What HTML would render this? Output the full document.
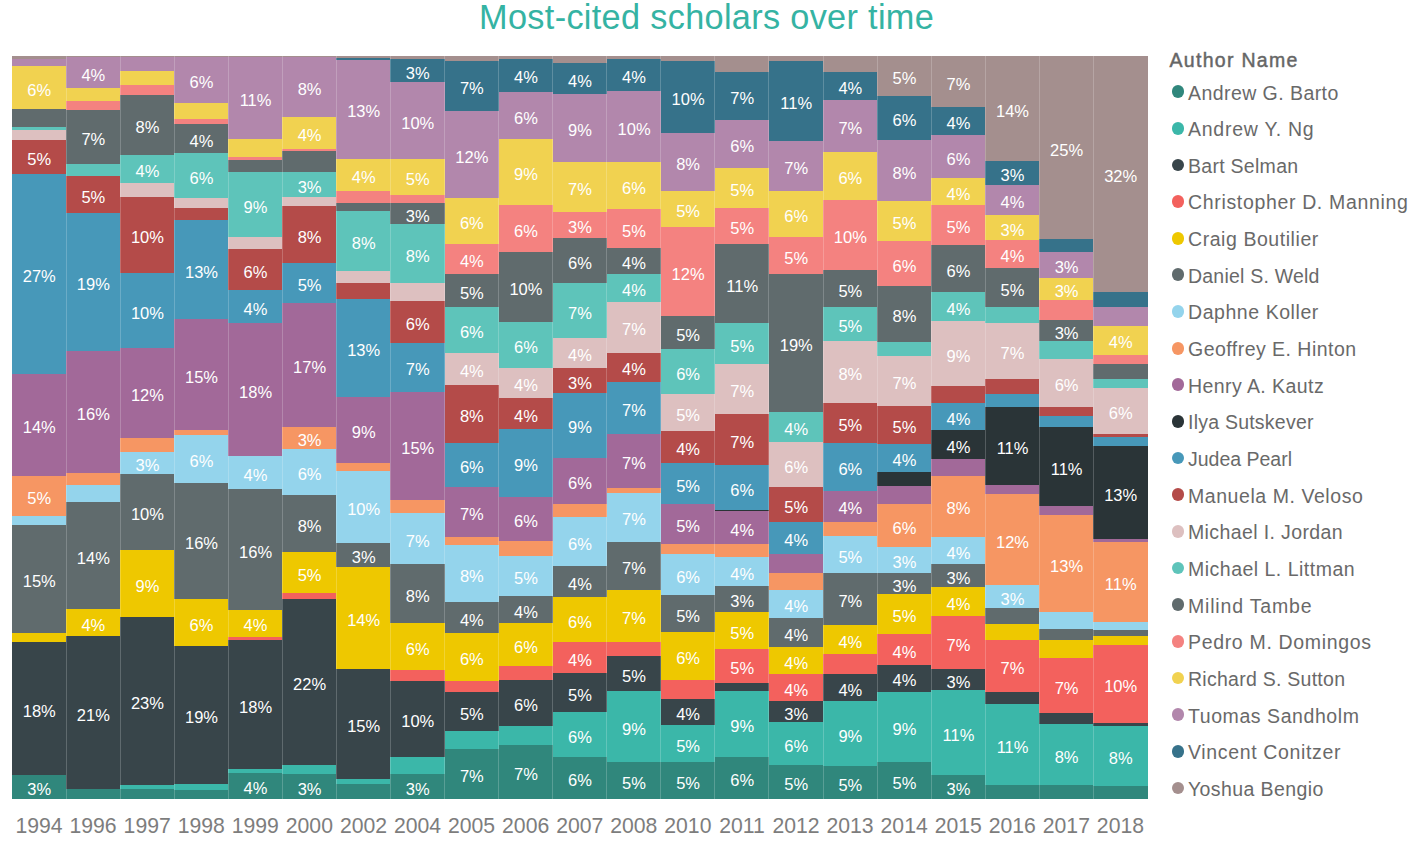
<!DOCTYPE html>
<html><head><meta charset="utf-8"><title>Most-cited scholars over time</title>
<style>
html,body{margin:0;padding:0;background:#fff}
body{width:1411px;height:844px;position:relative;overflow:hidden;font-family:"Liberation Sans",sans-serif}
#t{position:absolute;left:0;top:-3.2px;width:1413.2px;text-align:center;font-size:34.3px;line-height:40px;color:#35B3A3;white-space:nowrap;letter-spacing:0.31px}
.c{position:absolute;top:0;width:54.57px;height:844px}
.c i{position:absolute;left:0;width:100%;display:block}
.c b{position:absolute;left:0;width:100%;text-align:center;font-weight:normal;color:#fff;font-size:16.5px;line-height:20px;height:20px;white-space:nowrap;letter-spacing:0}
.c u{position:absolute;left:-0.5px;width:1px;height:743px;top:56px;background:rgba(255,255,255,.2);text-decoration:none}
.y{position:absolute;width:80px;text-align:center;font-size:21.2px;line-height:24px;color:#7d7d7d;white-space:nowrap}
.l{position:absolute;left:1188px;font-size:19.5px;line-height:24px;color:#696969;white-space:nowrap}
.d{position:absolute;width:12.8px;height:12.8px;border-radius:50%}
#lt{position:absolute;left:1169.5px;top:48px;font-size:19.5px;line-height:24px;font-weight:normal;-webkit-text-stroke:.45px #666;color:#666;white-space:nowrap;letter-spacing:1.3px}
.bar{background:#30877C}
.ng{background:#3BB7A9}
.sel{background:#38454A}
.man{background:#F3615D}
.bou{background:#EEC800}
.wel{background:#606B6D}
.kol{background:#94D4EC}
.hin{background:#F69663}
.kau{background:#A26999}
.sk{background:#2A3437}
.pea{background:#4798B9}
.vel{background:#B44B49}
.jor{background:#DDC0C0}
.lit{background:#5EC4BA}
.tam{background:#606B6D}
.dom{background:#F48280}
.st{background:#F1D250}
.sa{background:#B287AC}
.con{background:#36728A}
.ben{background:#A48F8E}
</style></head><body>
<div id="t">Most-cited scholars over time</div>
<div class="c" style="left:12px"><i class="ben" style="top:56px;height:3px"></i><i class="sa" style="top:58.7px;height:7.1px"></i><i class="st" style="top:65.5px;height:43.8px"></i><i class="tam" style="top:109px;height:18.3px"></i><i class="lit" style="top:127px;height:3.3px"></i><i class="jor" style="top:130px;height:10.3px"></i><i class="vel" style="top:140px;height:33.8px"></i><i class="pea" style="top:173.5px;height:200.3px"></i><i class="kau" style="top:373.5px;height:102.3px"></i><i class="hin" style="top:475.5px;height:40.3px"></i><i class="kol" style="top:515.5px;height:9.8px"></i><i class="wel" style="top:525px;height:108.05px"></i><i class="bou" style="top:632.75px;height:9.55px"></i><i class="sel" style="top:642px;height:132.8px"></i><i class="bar" style="top:774.5px;height:24.5px"></i><b style="top:79.55px">6%</b><b style="top:149.05px">5%</b><b style="top:265.8px">27%</b><b style="top:416.8px">14%</b><b style="top:487.8px">5%</b><b style="top:571.17px">15%</b><b style="top:700.55px">18%</b><b style="top:779.05px">3%</b></div>
<div class="y" style="left:-0.97px;top:814.04px">1994</div>
<div class="c" style="left:66.07px"><i class="ben" style="top:56px;height:1px"></i><i class="sa" style="top:56.7px;height:31.6px"></i><i class="st" style="top:88px;height:13.3px"></i><i class="dom" style="top:101px;height:9.3px"></i><i class="tam" style="top:110px;height:53.8px"></i><i class="lit" style="top:163.5px;height:12.8px"></i><i class="vel" style="top:176px;height:36.8px"></i><i class="pea" style="top:212.5px;height:138.8px"></i><i class="kau" style="top:351px;height:122.3px"></i><i class="hin" style="top:473px;height:12.3px"></i><i class="kol" style="top:485px;height:17.3px"></i><i class="wel" style="top:502px;height:107.3px"></i><i class="bou" style="top:609px;height:27.3px"></i><i class="sel" style="top:636px;height:153.3px"></i><i class="bar" style="top:789px;height:10px"></i><b style="top:64.65px">4%</b><b style="top:129.05px">7%</b><b style="top:186.55px">5%</b><b style="top:274.05px">19%</b><b style="top:404.3px">16%</b><b style="top:547.8px">14%</b><b style="top:614.8px">4%</b><b style="top:704.8px">21%</b><u></u></div>
<div class="y" style="left:53.1px;top:814.04px">1996</div>
<div class="c" style="left:120.14px"><i class="ben" style="top:56px;height:1px"></i><i class="sa" style="top:56.7px;height:14.1px"></i><i class="st" style="top:70.5px;height:14.8px"></i><i class="dom" style="top:85px;height:10.3px"></i><i class="tam" style="top:95px;height:59.8px"></i><i class="lit" style="top:154.5px;height:28.3px"></i><i class="jor" style="top:182.5px;height:14.8px"></i><i class="vel" style="top:197px;height:76.3px"></i><i class="pea" style="top:273px;height:74.8px"></i><i class="kau" style="top:347.5px;height:90.8px"></i><i class="hin" style="top:438px;height:14.3px"></i><i class="kol" style="top:452px;height:21.8px"></i><i class="wel" style="top:473.5px;height:76.8px"></i><i class="bou" style="top:550px;height:67.3px"></i><i class="sel" style="top:617px;height:168.3px"></i><i class="ng" style="top:785px;height:4.05px"></i><i class="bar" style="top:788.75px;height:10.25px"></i><b style="top:117.05px">8%</b><b style="top:160.8px">4%</b><b style="top:227.3px">10%</b><b style="top:302.55px">10%</b><b style="top:385.05px">12%</b><b style="top:455.05px">3%</b><b style="top:504.05px">10%</b><b style="top:575.8px">9%</b><b style="top:693.3px">23%</b><u></u></div>
<div class="y" style="left:107.18px;top:814.04px">1997</div>
<div class="c" style="left:174.21px"><i class="ben" style="top:56px;height:1px"></i><i class="sa" style="top:56.7px;height:46.6px"></i><i class="st" style="top:103px;height:15.8px"></i><i class="dom" style="top:118.5px;height:5.8px"></i><i class="tam" style="top:124px;height:29.3px"></i><i class="lit" style="top:153px;height:44.8px"></i><i class="jor" style="top:197.5px;height:10.8px"></i><i class="vel" style="top:208px;height:12.3px"></i><i class="pea" style="top:220px;height:98.8px"></i><i class="kau" style="top:318.5px;height:111.8px"></i><i class="hin" style="top:430px;height:5.3px"></i><i class="kol" style="top:435px;height:47.8px"></i><i class="wel" style="top:482.5px;height:116.3px"></i><i class="bou" style="top:598.5px;height:47.8px"></i><i class="sel" style="top:646px;height:138.3px"></i><i class="ng" style="top:784px;height:6.3px"></i><i class="bar" style="top:790px;height:9px"></i><b style="top:72.15px">6%</b><b style="top:130.8px">4%</b><b style="top:167.55px">6%</b><b style="top:261.55px">13%</b><b style="top:366.55px">15%</b><b style="top:451.05px">6%</b><b style="top:532.8px">16%</b><b style="top:614.55px">6%</b><b style="top:707.3px">19%</b><u></u></div>
<div class="y" style="left:161.25px;top:814.04px">1998</div>
<div class="c" style="left:228.28px"><i class="ben" style="top:56px;height:1px"></i><i class="sa" style="top:56.7px;height:82.6px"></i><i class="st" style="top:139px;height:18.3px"></i><i class="dom" style="top:157px;height:3.3px"></i><i class="tam" style="top:160px;height:12.3px"></i><i class="lit" style="top:172px;height:65.3px"></i><i class="jor" style="top:237px;height:12.3px"></i><i class="vel" style="top:249px;height:41.3px"></i><i class="pea" style="top:290px;height:32.8px"></i><i class="kau" style="top:322.5px;height:133.8px"></i><i class="kol" style="top:456px;height:33.3px"></i><i class="wel" style="top:489px;height:120.8px"></i><i class="bou" style="top:609.5px;height:27.3px"></i><i class="man" style="top:636.5px;height:3.55px"></i><i class="sel" style="top:639.75px;height:129.55px"></i><i class="ng" style="top:769px;height:4.3px"></i><i class="bar" style="top:773px;height:26px"></i><b style="top:90.15px">11%</b><b style="top:196.8px">9%</b><b style="top:261.8px">6%</b><b style="top:298.55px">4%</b><b style="top:381.55px">18%</b><b style="top:464.8px">4%</b><b style="top:541.55px">16%</b><b style="top:615.3px">4%</b><b style="top:696.67px">18%</b><b style="top:778.3px">4%</b><u></u></div>
<div class="y" style="left:215.31px;top:814.04px">1999</div>
<div class="c" style="left:282.35px"><i class="ben" style="top:56px;height:1px"></i><i class="sa" style="top:56.7px;height:60.1px"></i><i class="st" style="top:116.5px;height:32.3px"></i><i class="dom" style="top:148.5px;height:2.8px"></i><i class="tam" style="top:151px;height:20.8px"></i><i class="lit" style="top:171.5px;height:25.8px"></i><i class="jor" style="top:197px;height:9.3px"></i><i class="vel" style="top:206px;height:57.3px"></i><i class="pea" style="top:263px;height:40.3px"></i><i class="kau" style="top:303px;height:123.8px"></i><i class="hin" style="top:426.5px;height:22.8px"></i><i class="kol" style="top:449px;height:46.3px"></i><i class="wel" style="top:495px;height:57.3px"></i><i class="bou" style="top:552px;height:40.8px"></i><i class="man" style="top:592.5px;height:6.8px"></i><i class="sel" style="top:599px;height:165.8px"></i><i class="ng" style="top:764.5px;height:9.55px"></i><i class="bar" style="top:773.75px;height:25.25px"></i><b style="top:78.9px">8%</b><b style="top:124.8px">4%</b><b style="top:176.55px">3%</b><b style="top:226.8px">8%</b><b style="top:275.3px">5%</b><b style="top:357.05px">17%</b><b style="top:430.05px">3%</b><b style="top:464.3px">6%</b><b style="top:515.8px">8%</b><b style="top:564.55px">5%</b><b style="top:674.05px">22%</b><b style="top:778.67px">3%</b><u></u></div>
<div class="y" style="left:269.39px;top:814.04px">2000</div>
<div class="c" style="left:336.42px"><i class="ben" style="top:56px;height:2.3px"></i><i class="con" style="top:58px;height:1.8px"></i><i class="sa" style="top:59.5px;height:99.3px"></i><i class="st" style="top:158.5px;height:32.8px"></i><i class="dom" style="top:191px;height:12.05px"></i><i class="tam" style="top:202.75px;height:8.05px"></i><i class="lit" style="top:210.5px;height:60.3px"></i><i class="jor" style="top:270.5px;height:12.8px"></i><i class="vel" style="top:283px;height:15.8px"></i><i class="pea" style="top:298.5px;height:98.3px"></i><i class="kau" style="top:396.5px;height:66.8px"></i><i class="hin" style="top:463px;height:8.3px"></i><i class="kol" style="top:471px;height:72.3px"></i><i class="wel" style="top:543px;height:24.3px"></i><i class="bou" style="top:567px;height:102.3px"></i><i class="sel" style="top:669px;height:110.3px"></i><i class="ng" style="top:779px;height:4.8px"></i><i class="bar" style="top:783.5px;height:15.5px"></i><b style="top:101.3px">13%</b><b style="top:167.05px">4%</b><b style="top:232.8px">8%</b><b style="top:339.8px">13%</b><b style="top:422.05px">9%</b><b style="top:499.3px">10%</b><b style="top:547.3px">3%</b><b style="top:610.3px">14%</b><b style="top:716.3px">15%</b><u></u></div>
<div class="y" style="left:323.46px;top:814.04px">2002</div>
<div class="c" style="left:390.49px"><i class="ben" style="top:56px;height:3px"></i><i class="con" style="top:58.7px;height:23.6px"></i><i class="sa" style="top:82px;height:76.8px"></i><i class="st" style="top:158.5px;height:36.8px"></i><i class="dom" style="top:195px;height:8.3px"></i><i class="tam" style="top:203px;height:21.3px"></i><i class="lit" style="top:224px;height:59.3px"></i><i class="jor" style="top:283px;height:18.3px"></i><i class="vel" style="top:301px;height:41.8px"></i><i class="pea" style="top:342.5px;height:49.3px"></i><i class="kau" style="top:391.5px;height:108.8px"></i><i class="hin" style="top:500px;height:12.8px"></i><i class="kol" style="top:512.5px;height:51.8px"></i><i class="wel" style="top:564px;height:59.3px"></i><i class="bou" style="top:623px;height:47.3px"></i><i class="man" style="top:670px;height:10.8px"></i><i class="sel" style="top:680.5px;height:76.3px"></i><i class="ng" style="top:756.5px;height:17.3px"></i><i class="bar" style="top:773.5px;height:25.5px"></i><b style="top:62.65px">3%</b><b style="top:112.55px">10%</b><b style="top:169.05px">5%</b><b style="top:205.8px">3%</b><b style="top:245.8px">8%</b><b style="top:314.05px">6%</b><b style="top:359.3px">7%</b><b style="top:438.05px">15%</b><b style="top:530.55px">7%</b><b style="top:585.8px">8%</b><b style="top:638.8px">6%</b><b style="top:710.8px">10%</b><b style="top:778.55px">3%</b><u></u></div>
<div class="y" style="left:377.53px;top:814.04px">2004</div>
<div class="c" style="left:444.56px"><i class="ben" style="top:56px;height:5.3px"></i><i class="con" style="top:61px;height:50.3px"></i><i class="sa" style="top:111px;height:87.3px"></i><i class="st" style="top:198px;height:46.3px"></i><i class="dom" style="top:244px;height:30.05px"></i><i class="tam" style="top:273.75px;height:33.55px"></i><i class="lit" style="top:307px;height:46.3px"></i><i class="jor" style="top:353px;height:32.3px"></i><i class="vel" style="top:385px;height:58.3px"></i><i class="pea" style="top:443px;height:43.8px"></i><i class="kau" style="top:486.5px;height:50.3px"></i><i class="hin" style="top:536.5px;height:8.3px"></i><i class="kol" style="top:544.5px;height:57.8px"></i><i class="wel" style="top:602px;height:30.8px"></i><i class="bou" style="top:632.5px;height:48.8px"></i><i class="man" style="top:681px;height:11.3px"></i><i class="sel" style="top:692px;height:38.8px"></i><i class="ng" style="top:730.5px;height:18.8px"></i><i class="bar" style="top:749px;height:50px"></i><b style="top:78.3px">7%</b><b style="top:146.8px">12%</b><b style="top:213.3px">6%</b><b style="top:251.18px">4%</b><b style="top:282.68px">5%</b><b style="top:322.3px">6%</b><b style="top:361.3px">4%</b><b style="top:406.3px">8%</b><b style="top:457.05px">6%</b><b style="top:503.8px">7%</b><b style="top:565.55px">8%</b><b style="top:609.55px">4%</b><b style="top:649.05px">6%</b><b style="top:703.55px">5%</b><b style="top:766.3px">7%</b><u></u></div>
<div class="y" style="left:431.6px;top:814.04px">2005</div>
<div class="c" style="left:498.63px"><i class="ben" style="top:56px;height:3px"></i><i class="con" style="top:58.7px;height:33.1px"></i><i class="sa" style="top:91.5px;height:47.8px"></i><i class="st" style="top:139px;height:66.3px"></i><i class="dom" style="top:205px;height:46.8px"></i><i class="tam" style="top:251.5px;height:70.8px"></i><i class="lit" style="top:322px;height:45.8px"></i><i class="jor" style="top:367.5px;height:30.3px"></i><i class="vel" style="top:397.5px;height:31.8px"></i><i class="pea" style="top:429px;height:67.8px"></i><i class="kau" style="top:496.5px;height:44.8px"></i><i class="hin" style="top:541px;height:14.8px"></i><i class="kol" style="top:555.5px;height:40.8px"></i><i class="wel" style="top:596px;height:26.8px"></i><i class="bou" style="top:622.5px;height:43.8px"></i><i class="man" style="top:666px;height:13.8px"></i><i class="sel" style="top:679.5px;height:46.3px"></i><i class="ng" style="top:725.5px;height:19.8px"></i><i class="bar" style="top:745px;height:54px"></i><b style="top:67.4px">4%</b><b style="top:107.55px">6%</b><b style="top:164.3px">9%</b><b style="top:220.55px">6%</b><b style="top:279.05px">10%</b><b style="top:337.05px">6%</b><b style="top:374.8px">4%</b><b style="top:405.55px">4%</b><b style="top:455.05px">9%</b><b style="top:511.05px">6%</b><b style="top:568.05px">5%</b><b style="top:601.55px">4%</b><b style="top:636.55px">6%</b><b style="top:694.8px">6%</b><b style="top:764.3px">7%</b><u></u></div>
<div class="y" style="left:485.66px;top:814.04px">2006</div>
<div class="c" style="left:552.7px"><i class="ben" style="top:56px;height:7px"></i><i class="con" style="top:62.7px;height:31.6px"></i><i class="sa" style="top:94px;height:68.3px"></i><i class="st" style="top:162px;height:49.8px"></i><i class="dom" style="top:211.5px;height:26.8px"></i><i class="tam" style="top:238px;height:45.3px"></i><i class="lit" style="top:283px;height:55.3px"></i><i class="jor" style="top:338px;height:30.3px"></i><i class="vel" style="top:368px;height:24.8px"></i><i class="pea" style="top:392.5px;height:65.3px"></i><i class="kau" style="top:457.5px;height:46.8px"></i><i class="hin" style="top:504px;height:13.3px"></i><i class="kol" style="top:517px;height:48.8px"></i><i class="wel" style="top:565.5px;height:31.8px"></i><i class="bou" style="top:597px;height:45.3px"></i><i class="man" style="top:642px;height:30.8px"></i><i class="sel" style="top:672.5px;height:39.8px"></i><i class="ng" style="top:712px;height:45.3px"></i><i class="bar" style="top:757px;height:42px"></i><b style="top:70.65px">4%</b><b style="top:120.3px">9%</b><b style="top:179.05px">7%</b><b style="top:217.05px">3%</b><b style="top:252.8px">6%</b><b style="top:302.8px">7%</b><b style="top:345.3px">4%</b><b style="top:372.55px">3%</b><b style="top:417.3px">9%</b><b style="top:473.05px">6%</b><b style="top:533.55px">6%</b><b style="top:573.55px">4%</b><b style="top:611.8px">6%</b><b style="top:649.55px">4%</b><b style="top:684.55px">5%</b><b style="top:726.8px">6%</b><b style="top:770.3px">6%</b><u></u></div>
<div class="y" style="left:539.74px;top:814.04px">2007</div>
<div class="c" style="left:606.77px"><i class="ben" style="top:56px;height:3px"></i><i class="con" style="top:58.7px;height:32.6px"></i><i class="sa" style="top:91px;height:71.3px"></i><i class="st" style="top:162px;height:47.3px"></i><i class="dom" style="top:209px;height:39.3px"></i><i class="tam" style="top:248px;height:26.3px"></i><i class="lit" style="top:274px;height:27.8px"></i><i class="jor" style="top:301.5px;height:51.3px"></i><i class="vel" style="top:352.5px;height:29.3px"></i><i class="pea" style="top:381.5px;height:52.3px"></i><i class="kau" style="top:433.5px;height:54.8px"></i><i class="hin" style="top:488px;height:4.8px"></i><i class="kol" style="top:492.5px;height:49.3px"></i><i class="wel" style="top:541.5px;height:48.3px"></i><i class="bou" style="top:589.5px;height:52.3px"></i><i class="man" style="top:641.5px;height:14.8px"></i><i class="sel" style="top:656px;height:35.3px"></i><i class="ng" style="top:691px;height:71.3px"></i><i class="bar" style="top:762px;height:37px"></i><b style="top:67.15px">4%</b><b style="top:118.8px">10%</b><b style="top:177.8px">6%</b><b style="top:220.8px">5%</b><b style="top:253.3px">4%</b><b style="top:280.05px">4%</b><b style="top:319.3px">7%</b><b style="top:359.3px">4%</b><b style="top:399.8px">7%</b><b style="top:453.05px">7%</b><b style="top:509.3px">7%</b><b style="top:557.8px">7%</b><b style="top:607.8px">7%</b><b style="top:665.8px">5%</b><b style="top:718.8px">9%</b><b style="top:772.8px">5%</b><u></u></div>
<div class="y" style="left:593.8px;top:814.04px">2008</div>
<div class="c" style="left:660.84px"><i class="ben" style="top:56px;height:5.3px"></i><i class="con" style="top:61px;height:72.3px"></i><i class="sa" style="top:133px;height:58.3px"></i><i class="st" style="top:191px;height:35.8px"></i><i class="dom" style="top:226.5px;height:89.8px"></i><i class="tam" style="top:316px;height:33.3px"></i><i class="lit" style="top:349px;height:45.3px"></i><i class="jor" style="top:394px;height:37.3px"></i><i class="vel" style="top:431px;height:32.3px"></i><i class="pea" style="top:463px;height:41.3px"></i><i class="kau" style="top:504px;height:39.8px"></i><i class="hin" style="top:543.5px;height:10.3px"></i><i class="kol" style="top:553.5px;height:41.8px"></i><i class="wel" style="top:595px;height:37.3px"></i><i class="bou" style="top:632px;height:48.3px"></i><i class="man" style="top:680px;height:19.3px"></i><i class="sel" style="top:699px;height:26.3px"></i><i class="ng" style="top:725px;height:37.3px"></i><i class="bar" style="top:762px;height:37px"></i><b style="top:89.3px">10%</b><b style="top:154.3px">8%</b><b style="top:201.05px">5%</b><b style="top:263.55px">12%</b><b style="top:324.8px">5%</b><b style="top:363.8px">6%</b><b style="top:404.8px">5%</b><b style="top:439.3px">4%</b><b style="top:475.8px">5%</b><b style="top:516.05px">5%</b><b style="top:566.55px">6%</b><b style="top:605.8px">5%</b><b style="top:648.3px">6%</b><b style="top:704.3px">4%</b><b style="top:735.8px">5%</b><b style="top:772.8px">5%</b><u></u></div>
<div class="y" style="left:647.88px;top:814.04px">2010</div>
<div class="c" style="left:714.91px"><i class="ben" style="top:56px;height:16.3px"></i><i class="con" style="top:72px;height:48.3px"></i><i class="sa" style="top:120px;height:48.3px"></i><i class="st" style="top:168px;height:39.8px"></i><i class="dom" style="top:207.5px;height:36.8px"></i><i class="tam" style="top:244px;height:79.3px"></i><i class="lit" style="top:323px;height:40.8px"></i><i class="jor" style="top:363.5px;height:50.3px"></i><i class="vel" style="top:413.5px;height:51.8px"></i><i class="pea" style="top:465px;height:44.8px"></i><i class="sk" style="top:509.5px;height:1.8px"></i><i class="kau" style="top:511px;height:32.8px"></i><i class="hin" style="top:543.5px;height:13.8px"></i><i class="kol" style="top:557px;height:29.3px"></i><i class="wel" style="top:586px;height:26.3px"></i><i class="bou" style="top:612px;height:36.8px"></i><i class="man" style="top:648.5px;height:34.8px"></i><i class="sel" style="top:683px;height:8.3px"></i><i class="ng" style="top:691px;height:65.8px"></i><i class="bar" style="top:756.5px;height:42.5px"></i><b style="top:88.3px">7%</b><b style="top:136.3px">6%</b><b style="top:180.05px">5%</b><b style="top:218.05px">5%</b><b style="top:275.8px">11%</b><b style="top:335.55px">5%</b><b style="top:380.8px">7%</b><b style="top:431.55px">7%</b><b style="top:479.55px">6%</b><b style="top:519.55px">4%</b><b style="top:563.8px">4%</b><b style="top:591.3px">3%</b><b style="top:622.55px">5%</b><b style="top:658.05px">5%</b><b style="top:716.05px">9%</b><b style="top:770.05px">6%</b><u></u></div>
<div class="y" style="left:701.94px;top:814.04px">2011</div>
<div class="c" style="left:768.98px"><i class="ben" style="top:56px;height:5.3px"></i><i class="con" style="top:61px;height:80.3px"></i><i class="sa" style="top:141px;height:50.3px"></i><i class="st" style="top:191px;height:46.3px"></i><i class="dom" style="top:237px;height:36.8px"></i><i class="tam" style="top:273.5px;height:138.3px"></i><i class="lit" style="top:411.5px;height:30.3px"></i><i class="jor" style="top:441.5px;height:45.8px"></i><i class="vel" style="top:487px;height:34.8px"></i><i class="pea" style="top:521.5px;height:32.3px"></i><i class="kau" style="top:553.5px;height:19.3px"></i><i class="hin" style="top:572.5px;height:17.3px"></i><i class="kol" style="top:589.5px;height:28.8px"></i><i class="wel" style="top:618px;height:29.3px"></i><i class="bou" style="top:647px;height:26.8px"></i><i class="man" style="top:673.5px;height:27.8px"></i><i class="sel" style="top:701px;height:21.3px"></i><i class="ng" style="top:722px;height:42.8px"></i><i class="bar" style="top:764.5px;height:34.5px"></i><b style="top:93.3px">11%</b><b style="top:158.3px">7%</b><b style="top:206.3px">6%</b><b style="top:247.55px">5%</b><b style="top:334.8px">19%</b><b style="top:418.8px">4%</b><b style="top:456.55px">6%</b><b style="top:496.55px">5%</b><b style="top:529.8px">4%</b><b style="top:596.05px">4%</b><b style="top:624.8px">4%</b><b style="top:652.55px">4%</b><b style="top:679.55px">4%</b><b style="top:703.8px">3%</b><b style="top:735.55px">6%</b><b style="top:774.05px">5%</b><u></u></div>
<div class="y" style="left:756.01px;top:814.04px">2012</div>
<div class="c" style="left:823.05px"><i class="ben" style="top:56px;height:15.8px"></i><i class="con" style="top:71.5px;height:28.8px"></i><i class="sa" style="top:100px;height:52.3px"></i><i class="st" style="top:152px;height:47.8px"></i><i class="dom" style="top:199.5px;height:70.8px"></i><i class="tam" style="top:270px;height:37.3px"></i><i class="lit" style="top:307px;height:34.3px"></i><i class="jor" style="top:341px;height:62.3px"></i><i class="vel" style="top:403px;height:39.8px"></i><i class="pea" style="top:442.5px;height:48.3px"></i><i class="kau" style="top:490.5px;height:31.3px"></i><i class="hin" style="top:521.5px;height:14.3px"></i><i class="kol" style="top:535.5px;height:37.8px"></i><i class="wel" style="top:573px;height:51.8px"></i><i class="bou" style="top:624.5px;height:29.8px"></i><i class="man" style="top:654px;height:20.3px"></i><i class="sel" style="top:674px;height:27.3px"></i><i class="ng" style="top:701px;height:64.8px"></i><i class="bar" style="top:765.5px;height:33.5px"></i><b style="top:78.05px">4%</b><b style="top:118.3px">7%</b><b style="top:168.05px">6%</b><b style="top:227.05px">10%</b><b style="top:280.8px">5%</b><b style="top:316.3px">5%</b><b style="top:364.3px">8%</b><b style="top:415.05px">5%</b><b style="top:458.8px">6%</b><b style="top:498.3px">4%</b><b style="top:546.55px">5%</b><b style="top:591.05px">7%</b><b style="top:631.55px">4%</b><b style="top:679.8px">4%</b><b style="top:725.55px">9%</b><b style="top:774.55px">5%</b><u></u></div>
<div class="y" style="left:810.08px;top:814.04px">2013</div>
<div class="c" style="left:877.12px"><i class="ben" style="top:56px;height:39.8px"></i><i class="con" style="top:95.5px;height:44.8px"></i><i class="sa" style="top:140px;height:60.8px"></i><i class="st" style="top:200.5px;height:40.3px"></i><i class="dom" style="top:240.5px;height:45.8px"></i><i class="tam" style="top:286px;height:56.3px"></i><i class="lit" style="top:342px;height:14.3px"></i><i class="jor" style="top:356px;height:50.3px"></i><i class="vel" style="top:406px;height:37.8px"></i><i class="pea" style="top:443.5px;height:28.8px"></i><i class="sk" style="top:472px;height:14.3px"></i><i class="kau" style="top:486px;height:18.3px"></i><i class="hin" style="top:504px;height:43.3px"></i><i class="kol" style="top:547px;height:26.3px"></i><i class="wel" style="top:573px;height:21.3px"></i><i class="bou" style="top:594px;height:40.3px"></i><i class="man" style="top:634px;height:30.8px"></i><i class="sel" style="top:664.5px;height:27.3px"></i><i class="ng" style="top:691.5px;height:70.3px"></i><i class="bar" style="top:761.5px;height:37.5px"></i><b style="top:68.05px">5%</b><b style="top:110.05px">6%</b><b style="top:162.55px">8%</b><b style="top:212.8px">5%</b><b style="top:255.55px">6%</b><b style="top:306.3px">8%</b><b style="top:373.3px">7%</b><b style="top:417.05px">5%</b><b style="top:450.05px">4%</b><b style="top:517.8px">6%</b><b style="top:552.3px">3%</b><b style="top:575.8px">3%</b><b style="top:606.3px">5%</b><b style="top:641.55px">4%</b><b style="top:670.3px">4%</b><b style="top:718.8px">9%</b><b style="top:772.55px">5%</b><u></u></div>
<div class="y" style="left:864.15px;top:814.04px">2014</div>
<div class="c" style="left:931.19px"><i class="ben" style="top:56px;height:50.8px"></i><i class="con" style="top:106.5px;height:28.3px"></i><i class="sa" style="top:134.5px;height:43.8px"></i><i class="st" style="top:178px;height:26.8px"></i><i class="dom" style="top:204.5px;height:40.8px"></i><i class="tam" style="top:245px;height:47.3px"></i><i class="lit" style="top:292px;height:29.3px"></i><i class="jor" style="top:321px;height:65.3px"></i><i class="vel" style="top:386px;height:17.3px"></i><i class="pea" style="top:403px;height:27.3px"></i><i class="sk" style="top:430px;height:28.8px"></i><i class="kau" style="top:458.5px;height:17.3px"></i><i class="hin" style="top:475.5px;height:61.3px"></i><i class="kol" style="top:536.5px;height:27.8px"></i><i class="wel" style="top:564px;height:22.8px"></i><i class="bou" style="top:586.5px;height:29.8px"></i><i class="man" style="top:616px;height:53.3px"></i><i class="sel" style="top:669px;height:21.3px"></i><i class="ng" style="top:690px;height:84.8px"></i><i class="bar" style="top:774.5px;height:24.5px"></i><b style="top:73.55px">7%</b><b style="top:112.8px">4%</b><b style="top:148.55px">6%</b><b style="top:183.55px">4%</b><b style="top:217.05px">5%</b><b style="top:260.8px">6%</b><b style="top:298.8px">4%</b><b style="top:345.8px">9%</b><b style="top:408.8px">4%</b><b style="top:436.55px">4%</b><b style="top:498.3px">8%</b><b style="top:542.55px">4%</b><b style="top:567.55px">3%</b><b style="top:593.55px">4%</b><b style="top:634.8px">7%</b><b style="top:671.8px">3%</b><b style="top:724.55px">11%</b><b style="top:779.05px">3%</b><u></u></div>
<div class="y" style="left:918.23px;top:814.04px">2015</div>
<div class="c" style="left:985.26px"><i class="ben" style="top:56px;height:105.3px"></i><i class="con" style="top:161px;height:24.3px"></i><i class="sa" style="top:185px;height:29.8px"></i><i class="st" style="top:214.5px;height:25.8px"></i><i class="dom" style="top:240px;height:28.3px"></i><i class="tam" style="top:268px;height:39.3px"></i><i class="lit" style="top:307px;height:15.8px"></i><i class="jor" style="top:322.5px;height:56.3px"></i><i class="vel" style="top:378.5px;height:15.3px"></i><i class="pea" style="top:393.5px;height:13.8px"></i><i class="sk" style="top:407px;height:78.3px"></i><i class="kau" style="top:485px;height:9.3px"></i><i class="hin" style="top:494px;height:91.3px"></i><i class="kol" style="top:585px;height:23.3px"></i><i class="wel" style="top:608px;height:16.3px"></i><i class="bou" style="top:624px;height:16.3px"></i><i class="man" style="top:640px;height:51.8px"></i><i class="sel" style="top:691.5px;height:12.8px"></i><i class="ng" style="top:704px;height:80.8px"></i><i class="bar" style="top:784.5px;height:14.5px"></i><b style="top:100.8px">14%</b><b style="top:165.3px">3%</b><b style="top:192.05px">4%</b><b style="top:219.55px">3%</b><b style="top:246.3px">4%</b><b style="top:279.8px">5%</b><b style="top:342.8px">7%</b><b style="top:438.3px">11%</b><b style="top:531.8px">12%</b><b style="top:588.8px">3%</b><b style="top:658.05px">7%</b><b style="top:736.55px">11%</b><u></u></div>
<div class="y" style="left:972.29px;top:814.04px">2016</div>
<div class="c" style="left:1039.33px"><i class="ben" style="top:56px;height:183.3px"></i><i class="con" style="top:239px;height:13.3px"></i><i class="sa" style="top:252px;height:26.3px"></i><i class="st" style="top:278px;height:22.3px"></i><i class="dom" style="top:300px;height:20.3px"></i><i class="tam" style="top:320px;height:20.8px"></i><i class="lit" style="top:340.5px;height:18.3px"></i><i class="jor" style="top:358.5px;height:48.3px"></i><i class="vel" style="top:406.5px;height:9.3px"></i><i class="pea" style="top:415.5px;height:11.8px"></i><i class="sk" style="top:427px;height:79.3px"></i><i class="kau" style="top:506px;height:9.3px"></i><i class="hin" style="top:515px;height:96.8px"></i><i class="kol" style="top:611.5px;height:17.8px"></i><i class="wel" style="top:629px;height:10.8px"></i><i class="bou" style="top:639.5px;height:18.8px"></i><i class="man" style="top:658px;height:54.8px"></i><i class="sel" style="top:712.5px;height:11.8px"></i><i class="ng" style="top:724px;height:60.8px"></i><i class="bar" style="top:784.5px;height:14.5px"></i><b style="top:139.8px">25%</b><b style="top:257.3px">3%</b><b style="top:281.3px">3%</b><b style="top:322.55px">3%</b><b style="top:374.8px">6%</b><b style="top:458.8px">11%</b><b style="top:555.55px">13%</b><b style="top:677.55px">7%</b><b style="top:746.55px">8%</b><u></u></div>
<div class="y" style="left:1026.37px;top:814.04px">2017</div>
<div class="c" style="left:1093.4px"><i class="ben" style="top:56px;height:236.3px"></i><i class="con" style="top:292px;height:14.8px"></i><i class="sa" style="top:306.5px;height:19.3px"></i><i class="st" style="top:325.5px;height:29.3px"></i><i class="dom" style="top:354.5px;height:9.3px"></i><i class="tam" style="top:363.5px;height:15.8px"></i><i class="lit" style="top:379px;height:9.3px"></i><i class="jor" style="top:388px;height:45.8px"></i><i class="vel" style="top:433.5px;height:3.8px"></i><i class="pea" style="top:437px;height:9.3px"></i><i class="sk" style="top:446px;height:93.3px"></i><i class="kau" style="top:539px;height:3.3px"></i><i class="hin" style="top:542px;height:79.8px"></i><i class="kol" style="top:621.5px;height:8.3px"></i><i class="wel" style="top:629.5px;height:6.8px"></i><i class="bou" style="top:636px;height:9.3px"></i><i class="man" style="top:645px;height:77.8px"></i><i class="sel" style="top:722.5px;height:3.8px"></i><i class="ng" style="top:726px;height:60.3px"></i><i class="bar" style="top:786px;height:13px"></i><b style="top:166.3px">32%</b><b style="top:332.3px">4%</b><b style="top:403.05px">6%</b><b style="top:484.8px">13%</b><b style="top:574.05px">11%</b><b style="top:676.05px">10%</b><b style="top:748.3px">8%</b><u></u></div>
<div class="y" style="left:1080.44px;top:814.04px">2018</div>
<div id="lt">Author Name</div>
<div class="d bar" style="left:1171.6px;top:85.2px"></div><div class="l" style="top:80.5px;letter-spacing:0.44px">Andrew G. Barto</div>
<div class="d ng" style="left:1171.6px;top:121.85px"></div><div class="l" style="top:117.15px;letter-spacing:0.75px">Andrew Y. Ng</div>
<div class="d sel" style="left:1171.6px;top:158.5px"></div><div class="l" style="top:153.8px;letter-spacing:0.28px">Bart Selman</div>
<div class="d man" style="left:1171.6px;top:195.15px"></div><div class="l" style="top:190.45px;letter-spacing:0.66px">Christopher D. Manning</div>
<div class="d bou" style="left:1171.6px;top:231.8px"></div><div class="l" style="top:227.1px;letter-spacing:0.56px">Craig Boutilier</div>
<div class="d wel" style="left:1171.6px;top:268.45px"></div><div class="l" style="top:263.75px;letter-spacing:0.21px">Daniel S. Weld</div>
<div class="d kol" style="left:1171.6px;top:305.1px"></div><div class="l" style="top:300.4px;letter-spacing:0.56px">Daphne Koller</div>
<div class="d hin" style="left:1171.6px;top:341.75px"></div><div class="l" style="top:337.05px;letter-spacing:0.47px">Geoffrey E. Hinton</div>
<div class="d kau" style="left:1171.6px;top:378.4px"></div><div class="l" style="top:373.7px;letter-spacing:0.43px">Henry A. Kautz</div>
<div class="d sk" style="left:1171.6px;top:415.05px"></div><div class="l" style="top:410.35px;letter-spacing:0.23px">Ilya Sutskever</div>
<div class="d pea" style="left:1171.6px;top:451.7px"></div><div class="l" style="top:447px;letter-spacing:-0.01px">Judea Pearl</div>
<div class="d vel" style="left:1171.6px;top:488.35px"></div><div class="l" style="top:483.65px;letter-spacing:0.56px">Manuela M. Veloso</div>
<div class="d jor" style="left:1171.6px;top:525px"></div><div class="l" style="top:520.3px;letter-spacing:0.38px">Michael I. Jordan</div>
<div class="d lit" style="left:1171.6px;top:561.65px"></div><div class="l" style="top:556.95px;letter-spacing:0.49px">Michael L. Littman</div>
<div class="d tam" style="left:1171.6px;top:598.3px"></div><div class="l" style="top:593.6px;letter-spacing:0.82px">Milind Tambe</div>
<div class="d dom" style="left:1171.6px;top:634.95px"></div><div class="l" style="top:630.25px;letter-spacing:0.67px">Pedro M. Domingos</div>
<div class="d st" style="left:1171.6px;top:671.6px"></div><div class="l" style="top:666.9px;letter-spacing:0.26px">Richard S. Sutton</div>
<div class="d sa" style="left:1171.6px;top:708.25px"></div><div class="l" style="top:703.55px;letter-spacing:0.57px">Tuomas Sandholm</div>
<div class="d con" style="left:1171.6px;top:744.9px"></div><div class="l" style="top:740.2px;letter-spacing:0.65px">Vincent Conitzer</div>
<div class="d ben" style="left:1171.6px;top:781.55px"></div><div class="l" style="top:776.85px;letter-spacing:0.4px">Yoshua Bengio</div>
</body></html>
